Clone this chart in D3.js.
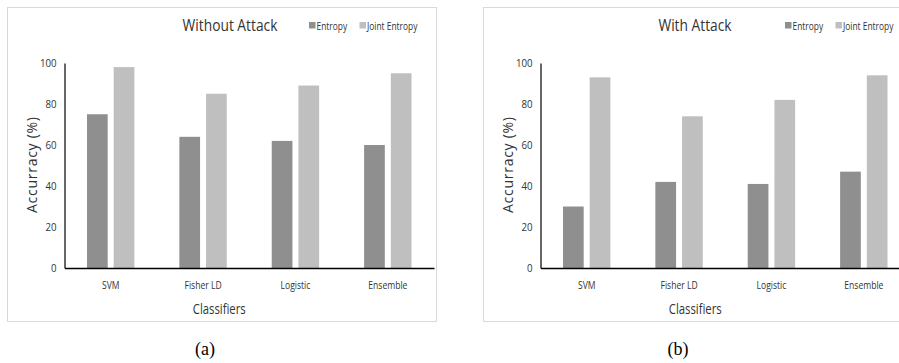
<!DOCTYPE html>
<html>
<head>
<meta charset="utf-8">
<script src="https://cdn.jsdelivr.net/npm/d3@7"></script>
<style>
  body { margin: 0; background: #fff; }
</style>
</head>
<body>
<div id="chart"></div>
<script>
// data
var classifiers = ["SVM", "Fisher LD", "Logistic", "Ensemble"];
var seriesNames = ["Entropy", "Joint Entropy"];
var entropyNoAttack = [75, 64, 62, 60];
var jointNoAttack = [98, 85, 89, 95];
var entropyAttack = [30, 42, 41, 47];
var jointAttack = [93, 74, 82, 94];
var yTicks = [0, 20, 40, 60, 80, 100];

var colors = { "Entropy": "#8f8f8f", "Joint Entropy": "#bfbfbf" };
var sans = "'Open Sans', sans-serif";

var svg = d3.select("#chart").append("svg")
  .attr("width", 899)
  .attr("height", 363);

// squeeze text horizontally to get the narrow look of the original font
function condense(sel, k) {
  sel.each(function() {
    var w = this.getComputedTextLength();
    d3.select(this)
      .attr("textLength", w * k)
      .attr("lengthAdjust", "spacingAndGlyphs");
  });
}

function drawPanel(left, title, titleX, entropy, joint, caption) {
  var g = svg.append("g").attr("transform", `translate(${left}, 0)`);

  // chart frame
  g.append("rect")
    .attr("x", 7.5).attr("y", 7.5)
    .attr("width", 429).attr("height", 314)
    .attr("fill", "none")
    .attr("stroke", "#d9d9d9");

  var plot = { left: 64.5, top: 63, width: 369.5, height: 205 };
  var pg = g.append("g").attr("transform", `translate(${plot.left}, ${plot.top})`);

  var x0 = d3.scaleBand().domain(classifiers).range([0, plot.width]);
  var x1 = d3.scaleBand().domain(seriesNames)
    .range([x0.bandwidth() / 2 - 23.7, x0.bandwidth() / 2 + 23.7])
    .paddingInner(0.225);
  var y = d3.scaleLinear().domain([0, 100]).range([plot.height, 0]);

  var rows = classifiers.map(function(c, i) {
    return { name: c, values: [
      { key: "Entropy", value: entropy[i] },
      { key: "Joint Entropy", value: joint[i] }
    ]};
  });

  pg.append("g").selectAll("g")
    .data(rows)
    .enter().append("g")
    .attr("transform", d => `translate(${x0(d.name)}, 0)`)
    .selectAll("rect")
    .data(d => d.values)
    .enter().append("rect")
    .attr("x", d => x1(d.key))
    .attr("width", x1.bandwidth())
    .attr("y", d => y(d.value))
    .attr("height", d => plot.height - y(d.value))
    .attr("fill", d => colors[d.key]);

  // y axis
  var yAxis = pg.append("g")
    .call(d3.axisLeft(y).tickValues(yTicks).tickSize(0).tickPadding(8));
  yAxis.select(".domain").attr("stroke", "#000").attr("stroke-width", 1.2);
  yAxis.selectAll("text")
    .attr("font-family", sans)
    .attr("font-size", 11)
    .attr("fill", "#333")
    .call(condense, 0.88);

  // x axis
  var xAxis = pg.append("g")
    .attr("transform", `translate(0, ${plot.height})`)
    .call(d3.axisBottom(x0).tickSize(0).tickPadding(13));
  xAxis.select(".domain").attr("stroke", "#000").attr("stroke-width", 1.5);
  xAxis.selectAll("text")
    .attr("font-family", sans)
    .attr("font-size", 11)
    .attr("fill", "#333")
    .call(condense, 0.78);

  // titles
  g.append("text")
    .attr("x", titleX).attr("y", 31)
    .attr("text-anchor", "middle")
    .attr("font-family", sans)
    .attr("font-size", 17)
    .attr("fill", "#333")
    .text(title)
    .call(condense, 0.81);

  g.append("text")
    .attr("x", plot.left + plot.width / 2 - 30).attr("y", 314)
    .attr("text-anchor", "middle")
    .attr("font-family", sans)
    .attr("font-size", 14.5)
    .attr("fill", "#333")
    .text("Classifiers")
    .call(condense, 0.78);

  g.append("text")
    .attr("transform", "rotate(-90)")
    .attr("x", -165).attr("y", 37)
    .attr("text-anchor", "middle")
    .attr("font-family", sans)
    .attr("font-size", 14)
    .attr("fill", "#333")
    .attr("textLength", 96)
    .attr("lengthAdjust", "spacing")
    .text("Accurracy (%)");

  // legend (labels squeezed with a transform so their box stays inside)
  var legend = g.append("g").attr("transform", "translate(309, 21)");
  var legendX = [0, 50.5];
  seriesNames.forEach(function(s, i) {
    legend.append("rect")
      .attr("x", legendX[i]).attr("y", 1)
      .attr("width", 6.5).attr("height", 6.5)
      .attr("fill", colors[s]);
    legend.append("g")
      .attr("transform", `translate(${legendX[i] + 7.5}, 8.5) scale(0.8, 1)`)
      .append("text")
      .attr("font-family", sans)
      .attr("font-size", 10.5)
      .attr("fill", "#333")
      .text(s);
  });

  // caption
  g.append("text")
    .attr("x", caption.x).attr("y", 355)
    .attr("text-anchor", "middle")
    .attr("font-family", "'Liberation Serif', 'DejaVu Serif', serif")
    .attr("font-size", 18)
    .attr("fill", "#000")
    .text(caption.text);
}

drawPanel(0, "Without Attack", 230, entropyNoAttack, jointNoAttack, { x: 205, text: "(a)" });
drawPanel(476, "With Attack", 219, entropyAttack, jointAttack, { x: 202, text: "(b)" });
</script>
</body>
</html>
